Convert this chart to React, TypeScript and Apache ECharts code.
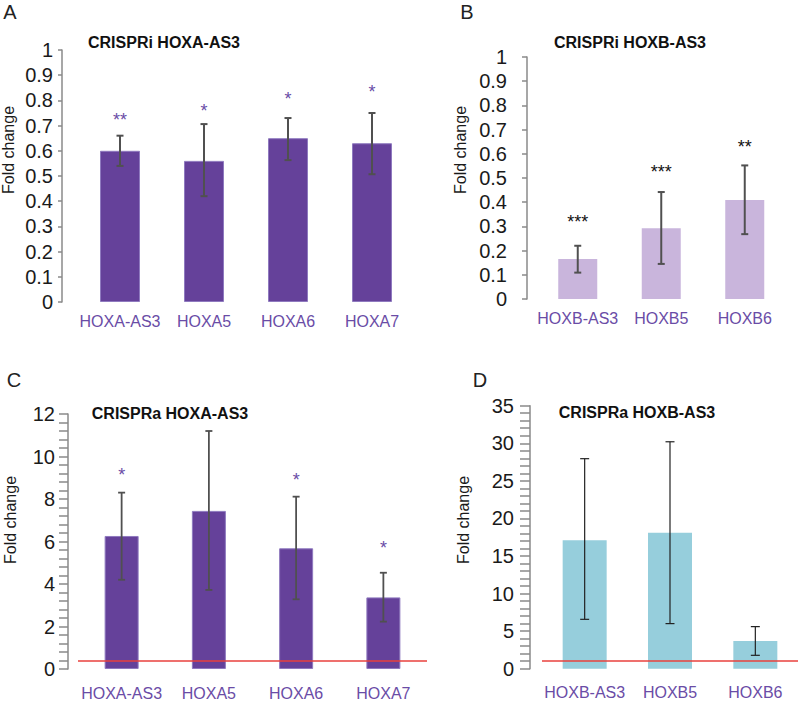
import React, { useEffect, useRef } from "react";
import * as echarts from "echarts";

// ---- Data ----
const catsA = ["HOXA-AS3", "HOXA5", "HOXA6", "HOXA7"];
const valsA = [0.6, 0.56, 0.65, 0.63];
const lowA = [0.54, 0.42, 0.563, 0.507];
const highA = [0.66, 0.706, 0.73, 0.75];
const starsA = ["**", "*", "*", "*"];
const starLevelA = [0.742, 0.778, 0.825, 0.853];

const catsB = ["HOXB-AS3", "HOXB5", "HOXB6"];
const valsB = [0.165, 0.292, 0.409];
const lowB = [0.109, 0.145, 0.268];
const highB = [0.22, 0.442, 0.552];
const starsB = ["***", "***", "**"];
const starLevelB = [0.339, 0.545, 0.649];

const catsC = ["HOXA-AS3", "HOXA5", "HOXA6", "HOXA7"];
const valsC = [6.26, 7.44, 5.68, 3.37];
const lowC = [4.2, 3.72, 3.28, 2.23];
const highC = [8.3, 11.2, 8.11, 4.53];
const starsC = ["*", "", "*", "*"];
const starLevelC = [9.36, 0, 9.13, 5.94];
const baselineC = 0.37;

const catsD = ["HOXB-AS3", "HOXB5", "HOXB6"];
const valsD = [17.1, 18.1, 3.69];
const lowD = [6.57, 6.0, 1.78];
const highD = [27.95, 30.2, 5.6];
const baselineD = 1;

const titles = ["CRISPRi HOXA-AS3", "CRISPRi HOXB-AS3", "CRISPRa HOXA-AS3", "CRISPRa HOXB-AS3"];
const panelLetters = ["A", "B", "C", "D"];
const yName = "Fold change";

const FONT = "Liberation Sans, Arial, sans-serif";
const AXIS_GRAY = "#8a8a8a";
const CAT_COLOR = "#6a4ca6";

type Panel = {
  cats: string[];
  vals: number[];
  low: number[];
  high: number[];
  stars?: string[];
  starLevel?: number[];
  starColor?: string;
  baseline?: number;
  left: number;
  top: number;
  width: number;
  height: number;
  max: number;
  interval: number;
  offset: number;
  minor: boolean;
  tickLen: number;
  labelMargin: number;
  catMargin: number;
  barWidth: number;
  color: string;
  borderColor?: string;
  errColor: string;
  errWidth: number;
  cap: number;
};

function buildPanel(idx: number, p: Panel) {
  const grid = {
    left: p.left,
    top: p.top,
    width: p.width,
    height: p.height,
    outerBoundsMode: "none",
    containLabel: false,
  };
  const xAxis = {
    type: "category",
    gridIndex: idx,
    data: p.cats,
    axisLine: { show: false },
    axisTick: { show: false },
    splitLine: { show: false },
    axisLabel: { color: CAT_COLOR, fontSize: 16, margin: p.catMargin, fontFamily: FONT, interval: 0 },
  };
  const yAxis = {
    type: "value",
    gridIndex: idx,
    min: 0,
    max: p.max,
    interval: p.interval,
    offset: p.offset,
    axisLine: { show: true, lineStyle: { color: AXIS_GRAY, width: 1.5 } },
    axisTick: { show: true, length: p.tickLen, lineStyle: { color: AXIS_GRAY, width: 1.5 } },
    minorTick: p.minor
      ? { show: true, splitNumber: 5, length: p.tickLen, lineStyle: { color: AXIS_GRAY, width: 1.5 } }
      : { show: false },
    splitLine: { show: false },
    minorSplitLine: { show: false },
    axisLabel: { fontSize: 20, color: "#1a1a1a", margin: p.labelMargin, fontFamily: FONT },
  };
  const series: any[] = [];
  const bar: any = {
    type: "bar",
    xAxisIndex: idx,
    yAxisIndex: idx,
    data: p.vals,
    barWidth: p.barWidth,
    itemStyle: {
      color: p.color,
      borderColor: p.borderColor || p.color,
      borderWidth: p.borderColor ? 1 : 0,
    },
    z: 2,
  };
  if (p.baseline != null) {
    bar.markLine = {
      silent: true,
      symbol: "none",
      label: { show: false },
      lineStyle: { color: "#e8403c", width: 1.5, type: "solid" },
      data: [{ yAxis: p.baseline }],
      z: 5,
    };
  }
  series.push(bar);
  series.push({
    type: "custom",
    xAxisIndex: idx,
    yAxisIndex: idx,
    z: 4,
    data: p.cats.map((_, i) => [i, p.low[i], p.high[i]]),
    encode: { x: 0, y: [1, 2] },
    renderItem: (params: any, api: any) => {
      const i = api.value(0);
      const lo = api.coord([i, api.value(1)]);
      const hi = api.coord([i, api.value(2)]);
      const cx = lo[0];
      const w = p.cap;
      const style = { stroke: p.errColor, lineWidth: p.errWidth };
      return {
        type: "group",
        children: [
          { type: "line", shape: { x1: cx, y1: lo[1], x2: cx, y2: hi[1] }, style },
          { type: "line", shape: { x1: cx - w, y1: hi[1], x2: cx + w, y2: hi[1] }, style },
          { type: "line", shape: { x1: cx - w, y1: lo[1], x2: cx + w, y2: lo[1] }, style },
        ],
      };
    },
  });
  if (p.stars && p.starLevel) {
    const stars = p.stars;
    const levels = p.starLevel;
    series.push({
      type: "custom",
      xAxisIndex: idx,
      yAxisIndex: idx,
      z: 6,
      data: p.cats.map((_, i) => [i, levels[i]]),
      encode: { x: 0, y: 1 },
      renderItem: (params: any, api: any) => {
        const i = api.value(0);
        const s = stars[i];
        if (!s) return null;
        const pt = api.coord([i, api.value(1)]);
        return {
          type: "text",
          x: pt[0],
          y: pt[1] + 5,
          style: {
            text: s,
            fill: p.starColor,
            font: "18px Liberation Sans, Arial, sans-serif",
            textAlign: "center",
            textVerticalAlign: "middle",
          },
        };
      },
    });
  }
  return { grid, xAxis, yAxis, series };
}

const panels: Panel[] = [
  {
    cats: catsA, vals: valsA, low: lowA, high: highA, stars: starsA, starLevel: starLevelA, starColor: "#6a4ca6",
    left: 78, top: 50, width: 336, height: 252, max: 1, interval: 0.1, offset: 16, minor: false,
    tickLen: 4, labelMargin: 9, catMargin: 11, barWidth: 40, color: "#65419a", borderColor: "#8f7abf",
    errColor: "#505050", errWidth: 2, cap: 3.5,
  },
  {
    cats: catsB, vals: valsB, low: lowB, high: highB, stars: starsB, starLevel: starLevelB, starColor: "#111111",
    left: 536, top: 57, width: 250.5, height: 242, max: 1, interval: 0.1, offset: 9, minor: false,
    tickLen: 5, labelMargin: 20, catMargin: 11, barWidth: 39, color: "#c9b5dc",
    errColor: "#505050", errWidth: 2, cap: 3.5,
  },
  {
    cats: catsC, vals: valsC, low: lowC, high: highC, stars: starsC, starLevel: starLevelC, starColor: "#6a4ca6",
    baseline: baselineC,
    left: 78, top: 414, width: 349, height: 255, max: 12, interval: 2, offset: 10, minor: true,
    tickLen: 9, labelMargin: 13, catMargin: 16, barWidth: 34, color: "#65419a", borderColor: "#8f7abf",
    errColor: "#505050", errWidth: 1.8, cap: 3.5,
  },
  {
    cats: catsD, vals: valsD, low: lowD, high: highD, baseline: baselineD,
    left: 542, top: 405.7, width: 256, height: 263, max: 35, interval: 5, offset: 12, minor: true,
    tickLen: 10, labelMargin: 16, catMargin: 16, barWidth: 44, color: "#96cedc",
    errColor: "#222222", errWidth: 1.2, cap: 4.5,
  },
];

const titlePos = [
  [164, 42],
  [630, 42],
  [170, 413],
  [637, 412],
];
const letterPos = [
  [10, 12],
  [467, 12],
  [14, 380],
  [480, 380],
];
const yNamePos = [
  [8, 150],
  [460, 150],
  [10, 520],
  [463, 520],
];

export default function App() {
  const ref = useRef<HTMLDivElement>(null);
  useEffect(() => {
    if (!ref.current) return;
    const chart = echarts.init(ref.current, null, { renderer: "svg" });
    const built = panels.map((p, i) => buildPanel(i, p));
    const graphic: any[] = [];
    titles.forEach((t, i) => {
      graphic.push({
        type: "text",
        x: titlePos[i][0],
        y: titlePos[i][1],
        style: {
          text: t,
          fontSize: 16,
          fontWeight: "bold",
          fontFamily: FONT,
          fill: "#111111",
          textAlign: "center",
          textVerticalAlign: "middle",
        },
      });
    });
    panelLetters.forEach((t, i) => {
      graphic.push({
        type: "text",
        x: letterPos[i][0],
        y: letterPos[i][1],
        style: {
          text: t,
          fontSize: 20,
          fontFamily: FONT,
          fill: "#222222",
          textAlign: "center",
          textVerticalAlign: "middle",
        },
      });
    });
    yNamePos.forEach((pos, i) => {
      graphic.push({
        type: "text",
        x: pos[0],
        y: pos[1],
        rotation: Math.PI / 2,
        style: {
          text: yName,
          fontSize: 16,
          fontFamily: FONT,
          fill: "#1a1a1a",
          textAlign: "center",
          textVerticalAlign: "middle",
        },
      });
    });
    chart.setOption({
      animation: false,
      backgroundColor: "#ffffff",
      textStyle: { fontFamily: FONT },
      grid: built.map((b) => b.grid),
      xAxis: built.map((b) => b.xAxis),
      yAxis: built.map((b) => b.yAxis),
      series: built.flatMap((b) => b.series),
      graphic,
    });
    return () => chart.dispose();
  }, []);
  return (
    <div
      ref={ref}
      style={{ position: "fixed", left: 0, top: 0, width: 798, height: 701 }}
    />
  );
}
